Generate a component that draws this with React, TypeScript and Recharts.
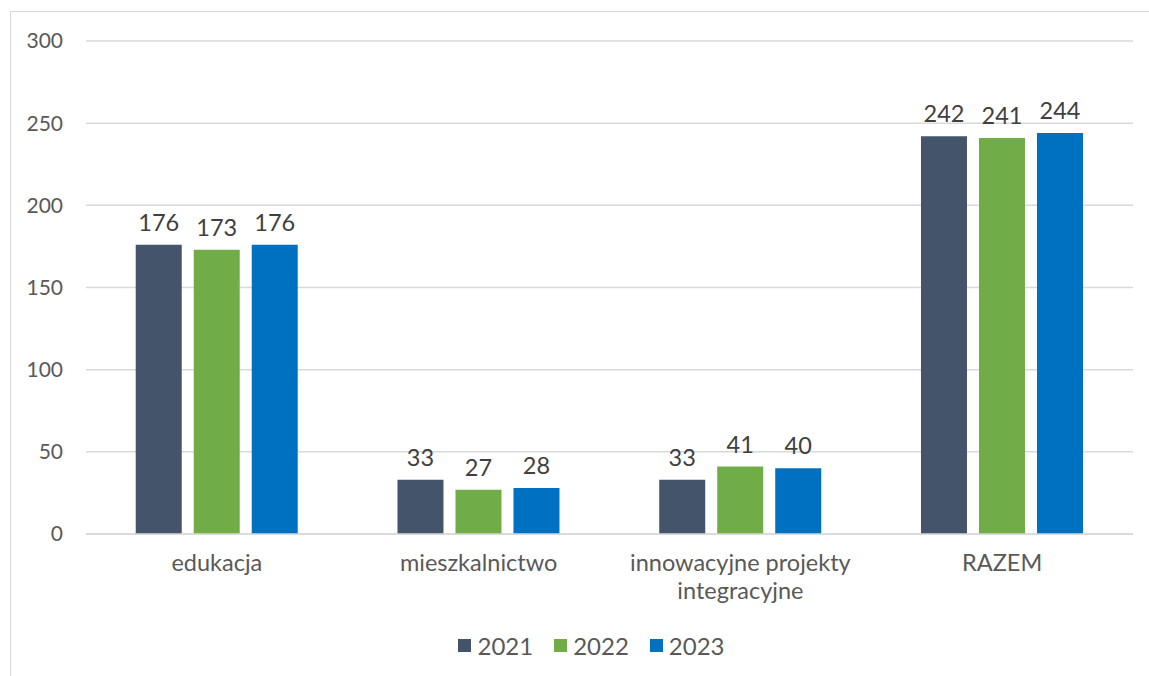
import React from 'react';
import { BarChart, Bar, XAxis, YAxis, CartesianGrid, Legend, LabelList } from 'recharts';

const categories = ['edukacja', 'mieszkalnictwo', 'innowacyjne projekty integracyjne', 'RAZEM'];
const values2021 = [176, 33, 33, 242];
const values2022 = [173, 27, 41, 241];
const values2023 = [176, 28, 40, 244];
const yTicks = [0, 50, 100, 150, 200, 250, 300];

const series = [
  { key: 'y2021', name: '2021', color: '#44546A' },
  { key: 'y2022', name: '2022', color: '#70AD47' },
  { key: 'y2023', name: '2023', color: '#0070C0' },
];

const data = categories.map((c, i) => ({
  category: c,
  y2021: values2021[i],
  y2022: values2022[i],
  y2023: values2023[i],
}));

const FONT = 'Lato, "Open Sans", sans-serif';

// wrap long category names into lines of max ~20 chars
const wrap = (text: string, max = 20) => {
  const lines: string[] = [];
  let cur = '';
  text.split(' ').forEach(w => {
    if (cur && (cur + ' ' + w).length > max) {
      lines.push(cur);
      cur = w;
    } else {
      cur = cur ? cur + ' ' + w : w;
    }
  });
  if (cur) lines.push(cur);
  return lines;
};

const CategoryTick = ({ x, y, payload }: any) => {
  const lines = wrap(payload.value);
  return (
    <text x={x} y={y} textAnchor="middle" fill="#595959" fontSize={23.5} fontFamily={FONT}>
      {lines.map((l, i) => (
        <tspan key={i} x={x} dy={i === 0 ? 29 : 28}>
          {l}
        </tspan>
      ))}
    </text>
  );
};

const LegendContent = () => (
  <div
    style={{
      display: 'flex',
      justifyContent: 'center',
      gap: 21,
      paddingLeft: 50,
      fontFamily: FONT,
      fontSize: 24,
      color: '#595959',
    }}
  >
    {series.map(s => (
      <div key={s.key} style={{ display: 'flex', alignItems: 'center' }}>
        <span style={{ width: 13, height: 13, background: s.color, display: 'inline-block', marginRight: 6 }} />
        {s.name}
      </div>
    ))}
  </div>
);

export default function App() {
  return (
    <div style={{ position: 'fixed', top: 0, left: 0, width: 1149, height: 676, background: '#fff', overflow: 'hidden' }}>
      <div
        style={{
          position: 'absolute',
          left: 10,
          top: 11,
          width: 1200,
          height: 700,
          border: '1.5px solid #D9D9D9',
          boxSizing: 'border-box',
        }}
      />
      <div style={{ position: 'absolute', left: 0, top: 0 }}>
        <BarChart
          width={1149}
          height={676}
          data={data}
          margin={{ top: 41, right: 16, left: 0, bottom: 53 }}
          barGap={12}
          barCategoryGap="19%"
        >
          <CartesianGrid vertical={false} stroke="#D9D9D9" strokeWidth={1.5} />
          <XAxis
            dataKey="category"
            axisLine={{ stroke: '#D9D9D9', strokeWidth: 1.5 }}
            tickLine={false}
            tick={<CategoryTick />}
            interval={0}
            height={60}
          />
          <YAxis
            domain={[0, 300]}
            ticks={yTicks}
            axisLine={false}
            tickLine={false}
            tickSize={0}
            tickMargin={23}
            width={86}
            tick={{ fill: '#595959', fontSize: 21, fontFamily: FONT }}
          />
          <Legend
            verticalAlign="bottom"
            content={<LegendContent />}
            wrapperStyle={{ bottom: 16 }}
          />
          {series.map(s => (
            <Bar key={s.key} dataKey={s.key} name={s.name} fill={s.color} isAnimationActive={false}>
              <LabelList
                dataKey={s.key}
                position="top"
                offset={14}
                fill="#404040"
                fontSize={23.5}
                fontFamily={FONT}
              />
            </Bar>
          ))}
        </BarChart>
      </div>
    </div>
  );
}
